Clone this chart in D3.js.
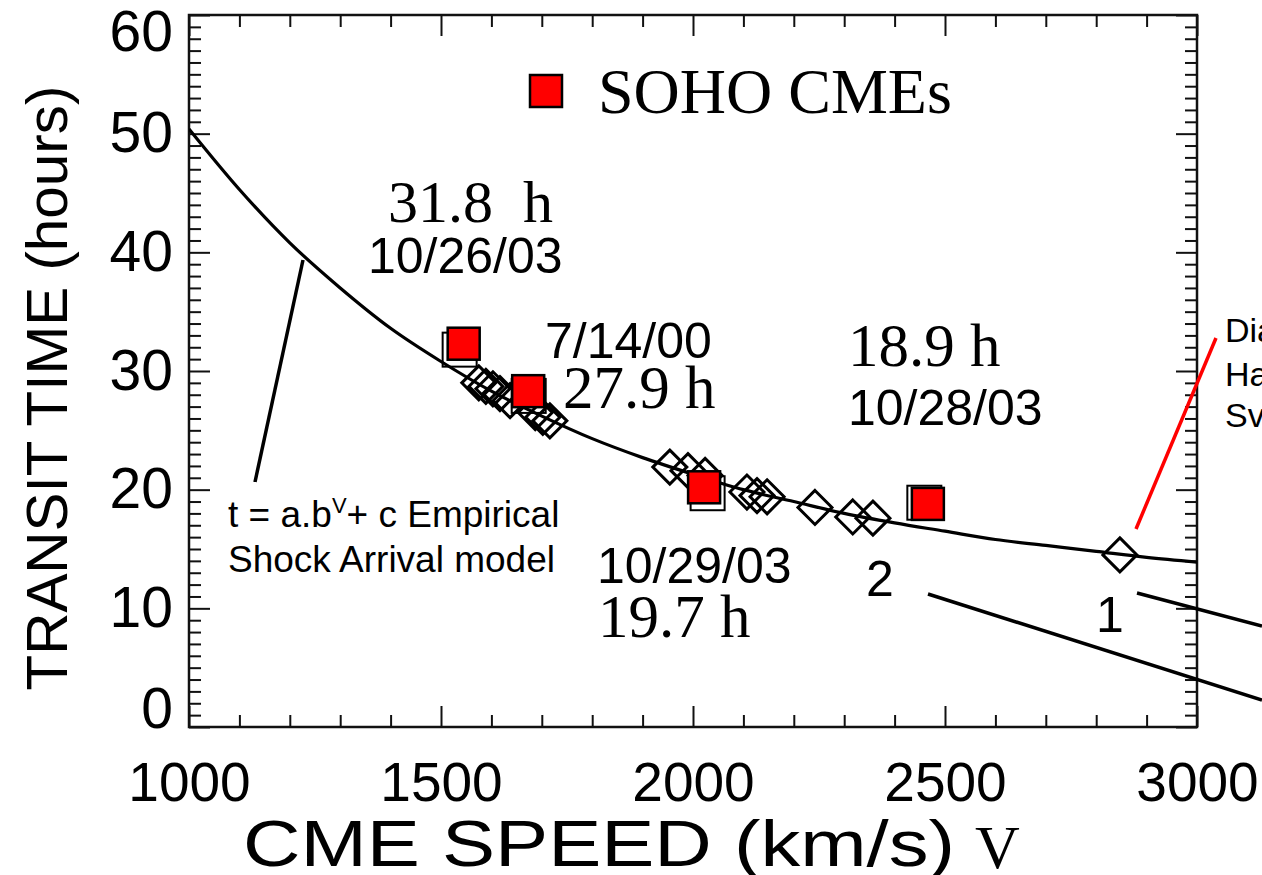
<!DOCTYPE html>
<html>
<head>
<meta charset="utf-8">
<script src="https://cdn.jsdelivr.net/npm/d3@7/dist/d3.min.js"></script>
<style>
  html, body { margin: 0; padding: 0; background: #fff; }
  svg { display: block; }
  .sans { font-family: "Liberation Sans", Arial, Helvetica, sans-serif; }
  .serif { font-family: "Liberation Serif", "Times New Roman", serif; }
</style>
</head>
<body>
<svg id="chart" width="1262" height="875"></svg>
<script>
// Axis ranges and ticks
const xDomain = [1000, 3000];
const yDomain = [0, 60];
const xMajorTicks = [1000, 1500, 2000, 2500, 3000];
const yMajorTicks = [0, 10, 20, 30, 40, 50, 60];
const xMinorStep = 100;
const yMinorStep = 1;

// Empirical shock arrival curve, sampled every 100 km/s (hours)
const curveSpeeds = [1000, 1100, 1200, 1300, 1400, 1500, 1600, 1700, 1800, 1900, 2000,
                     2100, 2200, 2300, 2400, 2500, 2600, 2700, 2800, 2900, 3000];
const curveTimes  = [50.4, 45.3, 40.8, 37.0, 33.6, 30.8, 28.3, 26.2, 24.3, 22.7, 21.3,
                     20.0, 19.0, 18.0, 17.2, 16.5, 15.8, 15.3, 14.8, 14.3, 13.9];

// Shock events (open diamonds)
const diamondSpeeds = [1575, 1589, 1603, 1617, 1637, 1687, 1702, 1716,
                       1954, 1990, 2024, 2107, 2127, 2147, 2242, 2317, 2357, 2847];
const diamondTimes  = [29.0, 28.7, 28.5, 28.1, 27.5, 26.5, 26.1, 25.8,
                       21.9, 21.6, 21.2, 19.8, 19.5, 19.4, 18.5, 17.7, 17.6, 14.5];

// SOHO CMEs: observed transit times (open squares)
const sohoSpeeds = [1537, 1674, 2029, 2459];
const sohoTimes  = [31.8, 27.9, 19.7, 18.9];

// SOHO CMEs: filled red markers
const sohoRedSpeeds = [1545, 1673, 2022, 2466];
const sohoRedTimes  = [32.3, 28.3, 20.2, 18.8];

// Event annotations
const eventDates = ["10/26/03", "7/14/00", "10/29/03", "10/28/03"];
const eventHours = ["31.8  h", "27.9 h", "19.7 h", "18.9 h"];

const svg = d3.select("#chart");
const x = d3.scaleLinear().domain(xDomain).range([189, 1197]);
const y = d3.scaleLinear().domain(yDomain).range([727, 15]);

const xMinor = d3.range(xDomain[0], xDomain[1] + 1, xMinorStep).filter(v => !xMajorTicks.includes(v));
const yMinor = d3.range(yDomain[0], yDomain[1] + 1, yMinorStep).filter(v => !yMajorTicks.includes(v));

const axisColor = "#111";
const majorLen = 21, minorLen = 12;

function styleAxis(g) {
  g.selectAll("path.domain").remove();
  g.selectAll(".tick line").attr("stroke", axisColor).attr("stroke-width", 2);
}

// Bottom axis with labels
const gBottom = svg.append("g").attr("transform", `translate(0,${y(0)})`);
gBottom.call(d3.axisBottom(x).tickValues(xMajorTicks).tickSize(-majorLen).tickPadding(35)
  .tickFormat(d3.format("d"))).call(styleAxis);
gBottom.selectAll("text").attr("class", "sans").attr("font-size", 55).attr("fill", "#000");
svg.append("g").attr("transform", `translate(0,${y(0)})`)
  .call(d3.axisBottom(x).tickValues(xMinor).tickSize(-minorLen).tickFormat("")).call(styleAxis);

// Top axis (ticks only)
svg.append("g").attr("transform", `translate(0,${y(60)})`)
  .call(d3.axisTop(x).tickValues(xMajorTicks).tickSize(-majorLen).tickFormat("")).call(styleAxis);
svg.append("g").attr("transform", `translate(0,${y(60)})`)
  .call(d3.axisTop(x).tickValues(xMinor).tickSize(-minorLen).tickFormat("")).call(styleAxis);

// Left axis with labels
const gLeft = svg.append("g").attr("transform", `translate(${x(1000)},0)`);
gLeft.call(d3.axisLeft(y).tickValues(yMajorTicks).tickSize(-majorLen).tickPadding(16)
  .tickFormat(d3.format("d"))).call(styleAxis);
gLeft.selectAll("text").attr("class", "sans").attr("font-size", 57).attr("fill", "#000")
  .attr("dy", d => d === 0 ? "0.0em" : d === 60 ? "0.62em" : "0.32em");
svg.append("g").attr("transform", `translate(${x(1000)},0)`)
  .call(d3.axisLeft(y).tickValues(yMinor).tickSize(-minorLen).tickFormat("")).call(styleAxis);

// Right axis (ticks only)
svg.append("g").attr("transform", `translate(${x(3000)},0)`)
  .call(d3.axisRight(y).tickValues(yMajorTicks).tickSize(-majorLen).tickFormat("")).call(styleAxis);
svg.append("g").attr("transform", `translate(${x(3000)},0)`)
  .call(d3.axisRight(y).tickValues(yMinor).tickSize(-minorLen).tickFormat("")).call(styleAxis);

// Plot frame
svg.append("rect")
  .attr("x", x(1000)).attr("y", y(60))
  .attr("width", x(3000) - x(1000)).attr("height", y(0) - y(60))
  .attr("fill", "none").attr("stroke", axisColor).attr("stroke-width", 2.5);

// Clip region for the model curve
svg.append("clipPath").attr("id", "plotClip").append("rect")
  .attr("x", x(1000)).attr("y", y(60))
  .attr("width", x(3000) - x(1000)).attr("height", y(0) - y(60));

const curvePts = curveSpeeds.map((v, i) => [v, curveTimes[i]]);
svg.append("path")
  .datum(curvePts)
  .attr("clip-path", "url(#plotClip)")
  .attr("fill", "none").attr("stroke", "#000").attr("stroke-width", 3.2)
  .attr("d", d3.line().x(d => x(d[0])).y(d => y(d[1])).curve(d3.curveMonotoneX));

// Diamonds
const dHalf = 17;
svg.append("g").selectAll("path")
  .data(diamondSpeeds.map((v, i) => [v, diamondTimes[i]]))
  .join("path")
  .attr("transform", d => `translate(${x(d[0])},${y(d[1])})`)
  .attr("d", `M0,${-dHalf}L${dHalf},0L0,${dHalf}L${-dHalf},0Z`)
  .attr("fill", "none").attr("stroke", "#000").attr("stroke-width", 3);

// Open squares (observed)
const oSize = 34;
svg.append("g").selectAll("rect")
  .data(sohoSpeeds.map((v, i) => [v, sohoTimes[i]]))
  .join("rect")
  .attr("x", d => x(d[0]) - oSize / 2).attr("y", d => y(d[1]) - oSize / 2)
  .attr("width", oSize).attr("height", oSize)
  .attr("fill", "none").attr("stroke", "#000").attr("stroke-width", 2);

// Filled red squares
const rSize = 32;
svg.append("g").selectAll("rect")
  .data(sohoRedSpeeds.map((v, i) => [v, sohoRedTimes[i]]))
  .join("rect")
  .attr("x", d => x(d[0]) - rSize / 2).attr("y", d => y(d[1]) - rSize / 2)
  .attr("width", rSize).attr("height", rSize)
  .attr("fill", "#ff0000").attr("stroke", "#000").attr("stroke-width", 2.5);

// Legend
svg.append("rect").attr("x", 530).attr("y", 75).attr("width", rSize).attr("height", rSize)
  .attr("fill", "#ff0000").attr("stroke", "#000").attr("stroke-width", 2.5);
svg.append("text").attr("class", "serif").attr("x", 598).attr("y", 113)
  .attr("font-size", 64).text("SOHO CMEs");

// Event labels
function label(txt, xx, yy, size, cls) {
  return svg.append("text").attr("class", cls).attr("x", xx).attr("y", yy)
    .attr("font-size", size).attr("fill", "#000").style("white-space", "pre").text(txt);
}
label(eventHours[0], 388, 222, 60, "serif");
label(eventDates[0], 368, 273, 50, "sans");
label(eventDates[1], 545, 358, 50, "sans");
label(eventHours[1], 563, 408, 61, "serif");
label(eventHours[3], 848, 366, 61, "serif");
label(eventDates[3], 848, 425, 50, "sans");
label(eventDates[2], 597, 583, 50, "sans");
label(eventHours[2], 598, 637, 61, "serif");
label("2", 866, 596, 50, "sans");
label("1", 1096, 632, 50, "sans");

// Model formula annotation
const f = svg.append("text").attr("class", "sans").attr("x", 228).attr("y", 527).attr("font-size", 37);
f.append("tspan").text("t = a.b");
f.append("tspan").attr("font-size", 22).attr("dy", -14).text("V");
f.append("tspan").attr("dy", 14).text("+ c Empirical");
label("Shock Arrival model", 228, 572, 37, "sans");

// Pointer lines
const lines = [
  {x1: 303, y1: 260, x2: 255, y2: 482, c: "#000"},
  {x1: 928, y1: 594, x2: 1262, y2: 700, c: "#000"},
  {x1: 1137, y1: 593, x2: 1262, y2: 626, c: "#000"},
  {x1: 1136, y1: 529, x2: 1216, y2: 338, c: "#ff0000"}
];
svg.append("g").selectAll("line").data(lines).join("line")
  .attr("x1", d => d.x1).attr("y1", d => d.y1).attr("x2", d => d.x2).attr("y2", d => d.y2)
  .attr("stroke", d => d.c).attr("stroke-width", 3.5);

// Side note (runs off the right edge)
label("Dia", 1225, 342, 34, "sans");
label("Ha", 1225, 386, 34, "sans");
label("Sv", 1225, 427, 34, "sans");

// Axis titles
svg.append("text").attr("class", "sans").attr("font-size", 58)
  .attr("transform", "translate(67,388) rotate(-90)").attr("text-anchor", "middle")
  .attr("textLength", 605).attr("lengthAdjust", "spacingAndGlyphs")
  .text("TRANSIT TIME (hours)");
svg.append("text").attr("class", "sans").attr("font-size", 64).attr("x", 243).attr("y", 866)
  .attr("textLength", 712).attr("lengthAdjust", "spacingAndGlyphs")
  .text("CME SPEED (km/s)");
svg.append("text").attr("class", "serif").attr("font-size", 62).attr("x", 975).attr("y", 868)
  .text("V");
</script>
</body>
</html>
